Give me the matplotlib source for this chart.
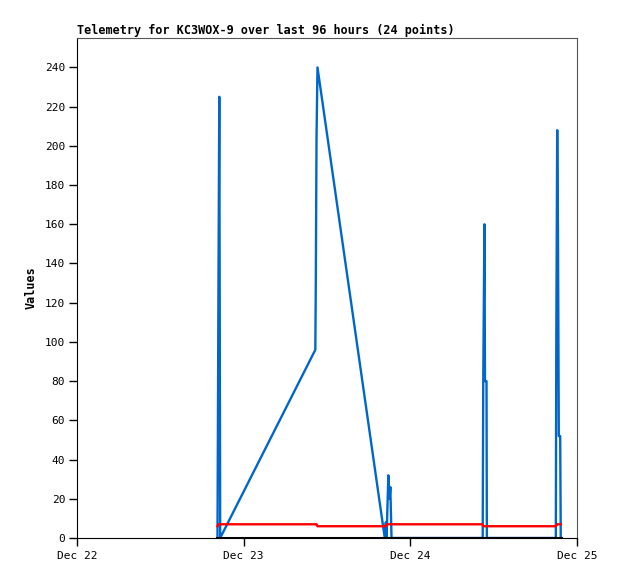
import matplotlib
matplotlib.use('Agg')
import matplotlib.pyplot as plt

# hours after Dec 22 00:00
hours = [20.23, 20.35, 20.49, 20.62,
         34.32, 34.39, 34.49, 34.63,
         44.32, 44.47, 44.58, 44.83, 45.01, 45.12, 45.29,
         58.42, 58.50, 58.67, 58.75, 58.97, 59.02,
         68.95, 69.02, 69.15, 69.26, 69.38, 69.58, 69.66]
blue = [0, 112, 225, 0,
        96, 132, 204, 240,
        0, 8, 0, 32, 20, 26, 0,
        0, 80, 160, 80, 80, 0,
        0, 104, 208, 156, 52, 52, 0]
red = [6, 7, 7, 7,
       7, 7, 7, 6,
       6, 6, 7, 7, 7, 7, 7,
       7, 6, 6, 6, 6, 6,
       6, 6.5, 7, 7, 7, 7, 7]
black = [0] * len(hours)

xticks = [0, 24, 48, 72]
xlabels = ['Dec 22', 'Dec 23', 'Dec 24', 'Dec 25']
yticks = list(range(0, 241, 20))

mono = 'DejaVu Sans Mono'

fig = plt.figure(figsize=(6.18, 5.79), dpi=100)
ax = fig.add_axes([77/618, 1-538/579, 500/618, 500/579])

ax.plot(hours, blue, color='#0066cc', linewidth=1.7)
ax.plot(hours, red, color='#ff0000', linewidth=1.7)
ax.plot(hours, black, color='black', linewidth=2.2)

ax.set_xlim(0, 72)
ax.set_ylim(0, 255)
ax.set_xticks(xticks)
ax.set_xticklabels(xlabels, fontfamily=mono, fontsize=8)
ax.set_yticks(yticks)
ax.set_yticklabels([str(v) for v in yticks], fontfamily=mono, fontsize=8)
ax.tick_params(axis='both', direction='out', length=5.5, width=1, pad=3)
ax.tick_params(axis='x', pad=4)

for s in ['top', 'right']:
    ax.spines[s].set_color('#555555')
ax.spines['left'].set_color('black')
ax.spines['bottom'].set_color('black')

ax.set_ylabel('Values', fontfamily=mono, fontweight='bold', fontsize=8.5, labelpad=5)
ax.set_title('Telemetry for KC3WOX-9 over last 96 hours (24 points)', loc='left',
             fontfamily=mono, fontweight='bold', fontsize=8.45, pad=3)

fig.savefig('out.png', dpi=100)
